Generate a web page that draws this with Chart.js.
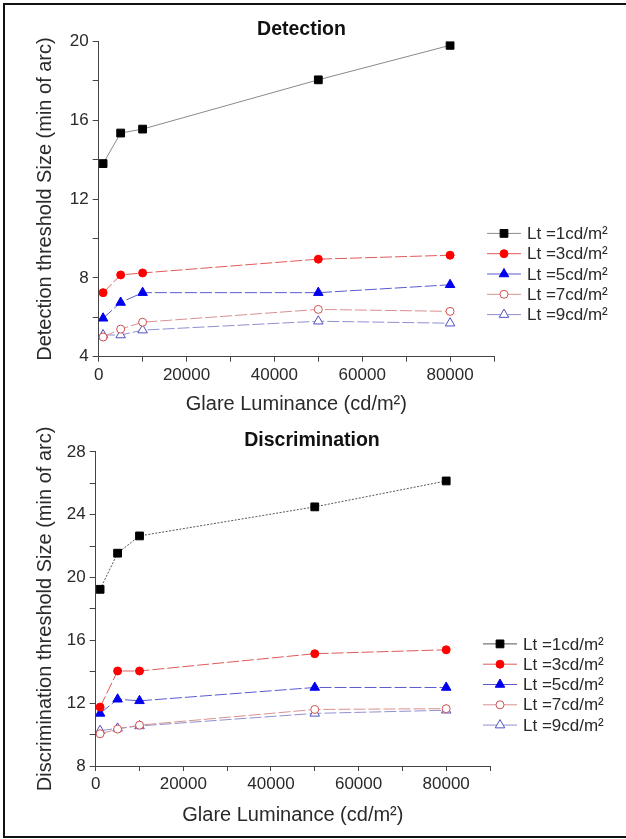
<!DOCTYPE html>
<html>
<head>
<meta charset="utf-8">
<script src="https://cdn.jsdelivr.net/npm/chart.js@4/dist/chart.umd.min.js"></script>
<style>
  body { margin: 0; width: 626px; height: 839px; overflow: hidden; background: #fff; position: relative; }
  .frame { position: absolute; left: 3px; top: 3px; width: 640px; height: 831px; border: 2px solid #111; }
  canvas { position: absolute; left: 5px; }
</style>
</head>
<body>
<div class="frame"></div>
<canvas id="detectionChart" width="617" height="415" style="top:5px"></canvas>
<canvas id="discriminationChart" width="617" height="414" style="top:420px"></canvas>
<script>
// glare luminance (cd/m2) on the x axis
const glareLum = [1000, 5000, 10000, 50000, 80000];
const seriesLabels = ["Lt =1cd/m²", "Lt =3cd/m²", "Lt =5cd/m²", "Lt =7cd/m²", "Lt =9cd/m²"];

// detection threshold size (min of arc)
const detLt1 = [13.8, 15.35, 15.55, 18.05, 19.8];
const detLt3 = [7.25, 8.15, 8.25, 8.95, 9.15];
const detLt5 = [5.95, 6.75, 7.25, 7.25, 7.65];
const detLt7 = [5.0, 5.4, 5.75, 6.4, 6.3];
const detLt9 = [5.1, 5.1, 5.35, 5.8, 5.7];

// discrimination threshold size (min of arc)
const disLt1 = [19.25, 21.55, 22.65, 24.5, 26.15];
const disLt3 = [11.75, 14.05, 14.05, 15.15, 15.4];
const disLt5 = [11.35, 12.25, 12.15, 13.0, 13.0];
const disLt7 = [10.05, 10.35, 10.6, 11.6, 11.65];
const disLt9 = [10.25, 10.4, 10.55, 11.35, 11.55];

const FONT = '"Liberation Sans", Arial, sans-serif';
const TEXT = "#2a2a2a";

const markers = [
  { fill: "#000000", border: "#000000", shape: "rect", r: 5.5 },
  { fill: "#ff0000", border: "#ff0000", shape: "circle", r: 4 },
  { fill: "#0000ee", border: "#0000ee", shape: "triangle", r: 5.5 },
  { fill: "#ffffff", border: "#d05050", shape: "circle", r: 4 },
  { fill: "#ffffff", border: "#5050c0", shape: "triangle", r: 5.5 },
];

function makeSets(series, lineColors, dashes) {
  return series.map((vals, i) => ({
    label: seriesLabels[i],
    data: vals.map((v, j) => ({ x: glareLum[j], y: v })),
    borderColor: lineColors[i],
    borderWidth: 1,
    borderDash: dashes[i],
    pointStyle: markers[i].shape,
    pointRadius: markers[i].r,
    pointBackgroundColor: markers[i].fill,
    pointBorderColor: markers[i].border,
    pointBorderWidth: 1,
    tension: 0,
  }));
}

// legend with a short line through each marker, drawn right of the plot
const lineLegend = {
  id: "lineLegend",
  afterDraw(chart) {
    const { ctx, chartArea } = chart;
    const x = chartArea.right - 7;
    let y = chartArea.top + 192;
    ctx.save();
    chart.data.datasets.forEach((ds) => {
      ctx.setLineDash([]);
      ctx.strokeStyle = ds.borderColor;
      ctx.lineWidth = 1;
      ctx.beginPath();
      ctx.moveTo(x, y);
      ctx.lineTo(x + 34, y);
      ctx.stroke();
      ctx.fillStyle = ds.pointBackgroundColor;
      ctx.strokeStyle = ds.pointBorderColor;
      Chart.helpers.drawPoint(ctx, { pointStyle: ds.pointStyle, radius: ds.pointRadius, borderWidth: 1, rotation: 0 }, x + 17, y);
      ctx.fillStyle = TEXT;
      ctx.font = "17px " + FONT;
      ctx.textBaseline = "middle";
      ctx.fillText(ds.label, x + 40, y + 1);
      y += 20.3;
    });
    ctx.restore();
  },
};

function makeChart(id, opts) {
  return new Chart(document.getElementById(id).getContext("2d"), {
    type: "line",
    data: { datasets: opts.datasets },
    options: {
      responsive: false,
      animation: false,
      layout: { padding: opts.padding },
      plugins: {
        legend: { display: false },
        tooltip: { enabled: false },
        title: {
          display: true,
          text: opts.title,
          color: "#111",
          font: { family: FONT, size: 19.5, weight: "bold" },
          padding: { top: opts.titleTop, bottom: 0 },
        },
      },
      scales: {
        x: {
          type: "linear",
          min: 0,
          max: 90000,
          grid: { drawOnChartArea: false, tickLength: 5, tickColor: "#444" },
          border: { color: "#444", width: 1 },
          ticks: {
            stepSize: 10000,
            autoSkip: false,
            maxRotation: 0,
            padding: 3,
            color: TEXT,
            font: { family: FONT, size: 17 },
            callback: (v) => (v % 20000 === 0 ? v : ""),
          },
          title: {
            display: true,
            text: "Glare Luminance (cd/m²)",
            color: TEXT,
            font: { family: FONT, size: 20 },
            padding: { top: 0, bottom: 0 },
          },
          afterFit: (s) => { s.height = opts.xHeight; },
        },
        y: {
          min: opts.yMin,
          max: opts.yMax,
          grid: { drawOnChartArea: false, tickLength: 6, tickColor: "#444" },
          border: { color: "#444", width: 1 },
          ticks: {
            stepSize: 2,
            padding: 4,
            color: TEXT,
            font: { family: FONT, size: 17 },
            callback: (v) => (v % 4 === 0 ? v : ""),
          },
          title: {
            display: true,
            text: opts.yTitle,
            color: TEXT,
            font: { family: FONT, size: 20 },
            padding: { top: 3.5, bottom: 0 },
          },
          afterFit: (s) => { s.width = opts.yWidth; },
        },
        // empty right-hand axis: keeps room for the legend
        spacer: {
          position: "right",
          display: true,
          grid: { display: false },
          border: { display: false },
          ticks: { display: false },
          afterFit: (s) => { s.width = opts.spacer; },
        },
      },
    },
    plugins: [lineLegend],
  });
}

const dashed = [12, 3];

makeChart("detectionChart", {
  title: "Detection",
  titleTop: 13,
  yTitle: "Detection threshold Size (min of arc)",
  yMin: 4,
  yMax: 20,
  yWidth: 68.7,
  xHeight: 59.3,
  spacer: 79,
  padding: { left: 25, right: 49, top: 0, bottom: 4 },
  datasets: makeSets(
    [detLt1, detLt3, detLt5, detLt7, detLt9],
    ["#8a8a8a", "#e05a5a", "#5a5ad0", "#d89090", "#9090d0"],
    [[], dashed, dashed, dashed, dashed]
  ),
});

makeChart("discriminationChart", {
  title: "Discrimination",
  titleTop: 8.5,
  yTitle: "Discrimination threshold Size (min of arc)",
  yMin: 8,
  yMax: 28,
  yWidth: 65.7,
  xHeight: 61,
  spacer: 104,
  padding: { left: 25, right: 28, top: 0, bottom: 7 },
  datasets: makeSets(
    [disLt1, disLt3, disLt5, disLt7, disLt9],
    ["#555555", "#e05a5a", "#5a5ad0", "#d89090", "#9090d0"],
    [[2, 1.5], dashed, dashed, dashed, dashed]
  ),
});
</script>
</body>
</html>
